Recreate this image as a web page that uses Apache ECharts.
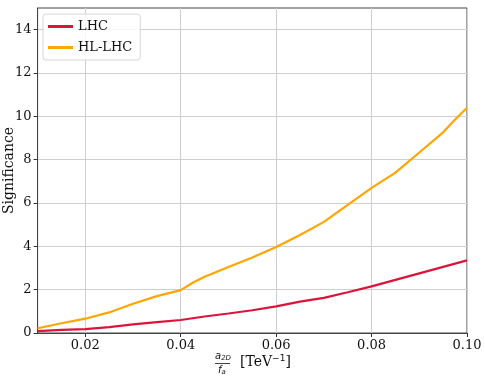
<!DOCTYPE html>
<html>
<head>
<meta charset="utf-8">
<script src="https://cdn.jsdelivr.net/npm/echarts@6/dist/echarts.min.js"></script>
<style>
  html, body { margin: 0; padding: 0; background: #fff; }
  #chart { width: 485px; height: 382px; }
</style>
</head>
<body>
<div id="chart"></div>
<script>
// values
const couplings = [0.010, 0.015, 0.020, 0.025, 0.030, 0.035, 0.040, 0.0425, 0.045, 0.050, 0.055,
                   0.060, 0.065, 0.070, 0.075, 0.080, 0.085, 0.090, 0.095, 0.0975, 0.100];
const lhc =   [0.09, 0.14, 0.18, 0.27, 0.40, 0.50, 0.60, 0.68, 0.76, 0.90, 1.05,
               1.23, 1.45, 1.62, 1.88, 2.15, 2.45, 2.75, 3.05, 3.20, 3.35];
const hlLhc = [0.22, 0.45, 0.66, 0.95, 1.35, 1.70, 1.98, 2.32, 2.60, 3.05, 3.48,
               3.97, 4.52, 5.13, 5.91, 6.70, 7.40, 8.33, 9.26, 9.85, 10.40];
const xTicks = [0.02, 0.04, 0.06, 0.08, 0.10];
const yTicks = [0, 2, 4, 6, 8, 10, 12, 14];

const serif = 'DejaVu Serif';
const chart = echarts.init(document.getElementById('chart'));

const pairs = ys => couplings.map((x, i) => [x, ys[i]]);

const option = {
    animation: false,
    grid: {
        left: 37.6, right: 18, top: 8, bottom: 49,
        containLabel: false,
        outerBoundsMode: 'none',
        show: true, borderColor: '#444', borderWidth: 1
    },
    legend: {
        orient: 'vertical',
        left: 43, top: 14,
        padding: [6, 8, 6, 5],
        itemGap: 8,
        itemWidth: 25, itemHeight: 3,
        icon: 'rect',
        backgroundColor: 'rgba(255,255,255,0.8)',
        borderColor: '#d6d6d6', borderWidth: 1, borderRadius: 3,
        textStyle: { fontFamily: serif, fontSize: 13, color: '#111' },
        data: ['LHC', 'HL-LHC']
    },
    xAxis: {
        type: 'value',
        min: 0.01, max: 0.10, interval: 0.01,
        axisLine: { lineStyle: { color: '#444' } },
        axisTick: { length: 4, lineStyle: { color: '#333' }, customValues: xTicks },
        axisLabel: {
            customValues: xTicks,
            formatter: v => v.toFixed(2),
            fontFamily: serif, fontSize: 13, color: '#111', margin: 6
        },
        splitLine: { show: true, lineStyle: { color: '#cfcfcf', width: 1 } }
    },
    yAxis: {
        type: 'value',
        min: 0, max: 15, interval: 2,
        name: 'Significance',
        nameLocation: 'middle',
        nameGap: 21,
        nameMoveOverlap: false,
        nameTextStyle: { fontFamily: serif, fontSize: 14, color: '#111' },
        axisLine: { show: true, lineStyle: { color: '#444' } },
        axisTick: { show: true, length: 4, lineStyle: { color: '#333' }, customValues: yTicks },
        axisLabel: {
            customValues: yTicks,
            fontFamily: serif, fontSize: 13, color: '#111', margin: 6
        },
        splitLine: { show: true, lineStyle: { color: '#cfcfcf', width: 1 } }
    },
    graphic: [
        { type: 'text', left: 215, top: 351,
          style: { text: '{a|a}{s|2D}', rich: {
              a: { fontFamily: 'DejaVu Sans', fontStyle: 'italic', fontSize: 10, fill: '#111' },
              s: { fontFamily: 'DejaVu Sans', fontStyle: 'italic', fontSize: 7, fill: '#111', padding: [5, 0, 0, 0] }
          } } },
        { type: 'line', shape: { x1: 215, y1: 363.5, x2: 230, y2: 363.5 },
          style: { stroke: '#111', lineWidth: 0.8 } },
        { type: 'text', left: 218, top: 365,
          style: { text: '{a|f}{s|a}', rich: {
              a: { fontFamily: 'DejaVu Sans', fontStyle: 'italic', fontSize: 10, fill: '#111' },
              s: { fontFamily: 'DejaVu Sans', fontStyle: 'italic', fontSize: 7, fill: '#111', padding: [5, 0, 0, 0] }
          } } },
        { type: 'text', left: 240, top: 354,
          style: { text: '{t|[TeV}{u|−1}{t|]}', rich: {
              t: { fontFamily: serif, fontSize: 14, fill: '#111' },
              u: { fontFamily: 'DejaVu Sans', fontSize: 9, fill: '#111', padding: [0, 0, 8, 0] }
          } } }
    ],
    series: [
        {
            name: 'LHC', type: 'line', showSymbol: false,
            color: '#DC143C',
            lineStyle: { width: 2.2, color: '#DC143C' },
            data: pairs(lhc)
        },
        {
            name: 'HL-LHC', type: 'line', showSymbol: false,
            color: '#FFA500',
            lineStyle: { width: 2.2, color: '#FFA500' },
            data: pairs(hlLhc)
        }
    ]
};

chart.setOption(option);
</script>
</body>
</html>
